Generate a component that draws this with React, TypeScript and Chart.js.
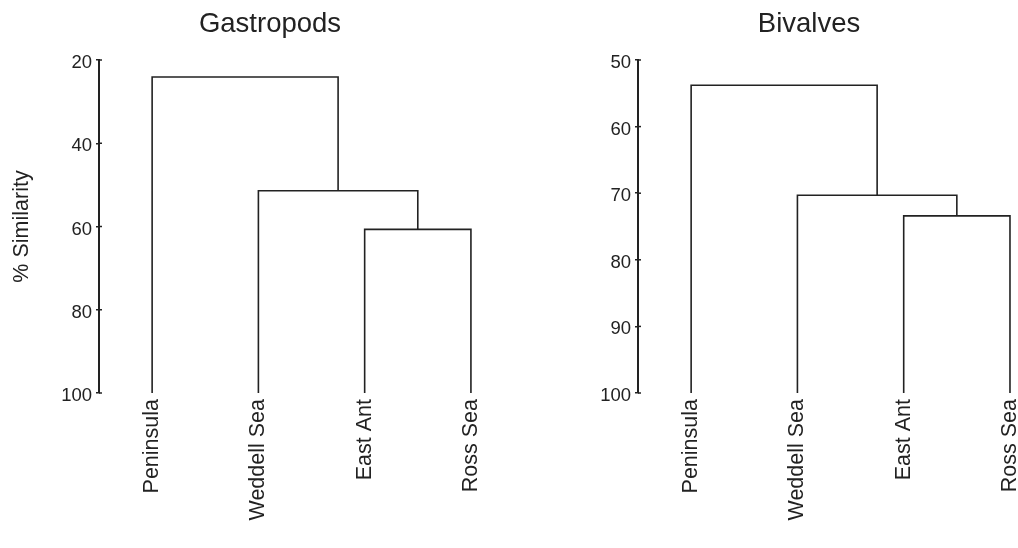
import React, { useEffect, useRef } from "react";
import { Chart, registerables } from "chart.js";

Chart.register(...registerables);

// ---- data ----
const categories = ["Peninsula", "Weddell Sea", "East Ant", "Ross Sea"];
// merges reference node ids: leaves 0..3, merged clusters 4..6 (in order)
const merges: number[][] = [
  [2, 3],
  [1, 4],
  [0, 5],
];
const gastropodHeights = [60.7, 51.4, 24.1];
const bivalveHeights = [73.4, 70.3, 53.8];
const gastropodTicks = [20, 40, 60, 80, 100];
const bivalveTicks = [50, 60, 70, 80, 90, 100];

const INK = "#222222";
const FONT = "'Liberation Sans', Arial, sans-serif";

function buildSegments(heights: number[], base: number) {
  const nodes: { x: number; y: number }[] = categories.map((_, i) => ({ x: i, y: base }));
  const datasets: any[] = [];
  merges.forEach(([a, b], k) => {
    const h = heights[k];
    const A = nodes[a];
    const B = nodes[b];
    datasets.push({
      data: [
        { x: A.x, y: A.y },
        { x: A.x, y: h },
        { x: B.x, y: h },
        { x: B.x, y: B.y },
      ],
      showLine: true,
      pointRadius: 0,
      borderColor: INK,
      borderWidth: 1.6,
      tension: 0,
    });
    nodes.push({ x: (A.x + B.x) / 2, y: h });
  });
  return datasets;
}

const crossTicks = {
  id: "crossTicks",
  afterDatasetsDraw(chart: any) {
    const s = chart.scales.y;
    const ctx = chart.ctx;
    ctx.save();
    ctx.strokeStyle = INK;
    ctx.lineWidth = 1.5;
    s.ticks.forEach((t: any) => {
      const y = s.getPixelForValue(t.value);
      ctx.beginPath();
      ctx.moveTo(s.right, y);
      ctx.lineTo(s.right + 3, y);
      ctx.stroke();
    });
    ctx.restore();
  },
};

interface PanelProps {
  title: string;
  heights: number[];
  ticks: number[];
  yTitle?: string;
  left: number;
  width: number;
  axisWidth: number;
  xMax: number;
}

function Panel({ title, heights, ticks, yTitle, left, width, axisWidth, xMax }: PanelProps) {
  const ref = useRef<HTMLCanvasElement>(null);
  useEffect(() => {
    if (!ref.current) return;
    const yMin = ticks[0];
    const yMax = ticks[ticks.length - 1];
    const chart = new Chart(ref.current, {
      type: "scatter",
      data: { datasets: buildSegments(heights, yMax) },
      plugins: [crossTicks],
      options: {
        animation: false,
        responsive: false,
        layout: { padding: 0 },
        plugins: {
          legend: { display: false },
          tooltip: { enabled: false },
          title: {
            display: true,
            text: title,
            color: INK,
            font: { family: FONT, size: 27.5, weight: "normal" },
            padding: { top: 8, bottom: 19 },
          },
        },
        scales: {
          x: {
            type: "linear",
            min: -0.5,
            max: xMax,
            afterBuildTicks: (s: any) => {
              s.ticks = categories.map((_, i) => ({ value: i }));
            },
            afterFit: (s: any) => {
              s.height = 548 - 393;
            },
            grid: { display: false, drawTicks: false },
            border: { display: false },
            ticks: {
              autoSkip: false,
              minRotation: 90,
              maxRotation: 90,
              padding: 6,
              color: INK,
              font: { family: FONT, size: 21.5 },
              callback: (v: any) => categories[Math.round(Number(v))],
            },
          },
          y: {
            type: "linear",
            reverse: true,
            min: yMin,
            max: yMax,
            afterBuildTicks: (s: any) => {
              s.ticks = ticks.map((v) => ({ value: v }));
            },
            afterFit: (s: any) => {
              s.width = axisWidth;
            },
            grid: {
              drawOnChartArea: false,
              drawTicks: true,
              tickLength: 3,
              color: INK,
              lineWidth: 1.5,
            },
            border: { display: true, color: INK, width: 2 },
            ticks: {
              padding: 4,
              labelOffset: 3,
              color: INK,
              font: { family: FONT, size: 18.5 },
            },
            title: {
              display: !!yTitle,
              text: yTitle || "",
              color: INK,
              font: { family: FONT, size: 21.5 },
              padding: { top: 9, bottom: 0 },
            },
          },
        },
      } as any,
    });
    return () => chart.destroy();
  }, []);
  return (
    <div style={{ position: "absolute", left, top: 0, width, height: 548 }}>
      <canvas ref={ref} width={width} height={548} style={{ display: "block" }} />
    </div>
  );
}

export default function App() {
  return (
    <div
      style={{
        position: "fixed",
        left: 0,
        top: 0,
        width: 1018,
        height: 548,
        overflow: "hidden",
        background: "#ffffff",
      }}
    >
      <Panel
        title="Gastropods"
        heights={gastropodHeights}
        ticks={gastropodTicks}
        yTitle="% Similarity"
        left={0}
        width={540}
        axisWidth={99}
        xMax={3.65}
      />
      <Panel
        title="Bivalves"
        heights={bivalveHeights}
        ticks={bivalveTicks}
        left={540}
        width={538}
        axisWidth={98}
        xMax={3.64}
      />
    </div>
  );
}
